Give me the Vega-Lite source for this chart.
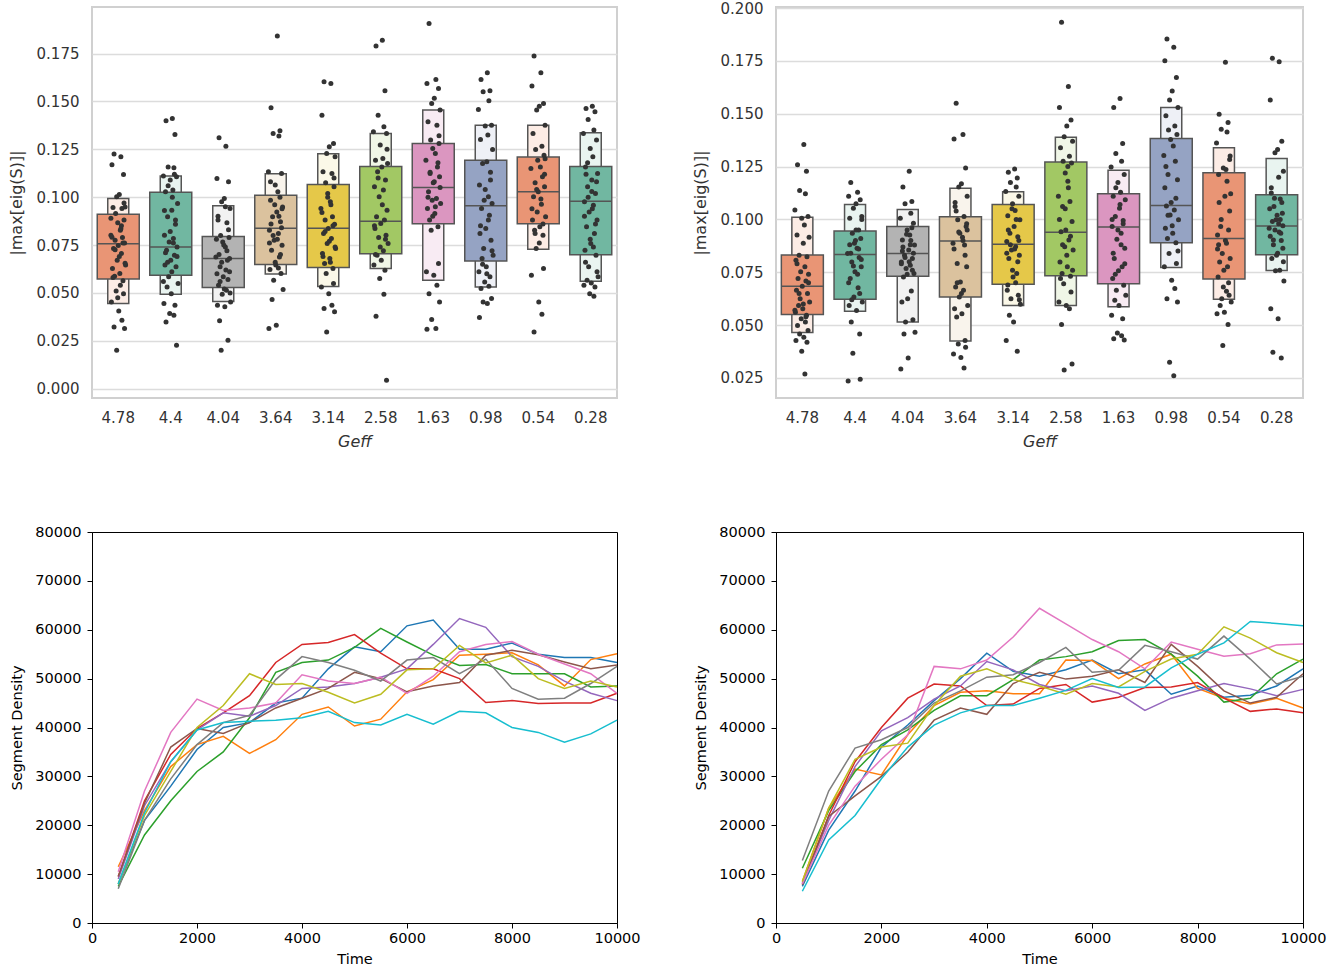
{
"$schema": "https://vega.github.io/schema/vega-lite/v6.json",
"padding": {"left": 7, "top": 0, "right": 5, "bottom": 5},
"background": "white",
"config": {"font": "DejaVu Sans", "axis": {"labelFont": "DejaVu Sans", "titleFont": "DejaVu Sans"}},
"datasets": {
"boxA": [
{"g":"4.78","o1":0.0444,"q1":0.0573,"m":0.0756,"q3":0.0911,"o3":0.0993},
{"g":"4.4","o1":0.0493,"q1":0.0592,"m":0.0739,"q3":0.1026,"o3":0.1111},
{"g":"4.04","o1":0.0455,"q1":0.0528,"m":0.0679,"q3":0.0794,"o3":0.0955},
{"g":"3.64","o1":0.0598,"q1":0.0648,"m":0.0838,"q3":0.1010,"o3":0.1122},
{"g":"3.14","o1":0.0533,"q1":0.0632,"m":0.0838,"q3":0.1066,"o3":0.1226},
{"g":"2.58","o1":0.0627,"q1":0.0704,"m":0.0874,"q3":0.1160,"o3":0.1333},
{"g":"1.63","o1":0.0566,"q1":0.0861,"m":0.1050,"q3":0.1280,"o3":0.1455},
{"g":"0.98","o1":0.0531,"q1":0.0667,"m":0.0955,"q3":0.1192,"o3":0.1376},
{"g":"0.54","o1":0.0728,"q1":0.0861,"m":0.1028,"q3":0.1209,"o3":0.1376},
{"g":"0.28","o1":0.0561,"q1":0.0699,"m":0.0979,"q3":0.1160,"o3":0.1336}
],
"boxB": [
{"g":"4.78","o1":0.0465,"q1":0.0550,"m":0.0684,"q3":0.0832,"o3":0.1010},
{"g":"4.4","o1":0.0565,"q1":0.0622,"m":0.0834,"q3":0.0945,"o3":0.1071},
{"g":"4.04","o1":0.0514,"q1":0.0731,"m":0.0839,"q3":0.0966,"o3":0.1047},
{"g":"3.64","o1":0.0425,"q1":0.0633,"m":0.0898,"q3":0.1013,"o3":0.1147},
{"g":"3.14","o1":0.0593,"q1":0.0693,"m":0.0883,"q3":0.1071,"o3":0.1131},
{"g":"2.58","o1":0.0593,"q1":0.0733,"m":0.0939,"q3":0.1272,"o3":0.1389},
{"g":"1.63","o1":0.0587,"q1":0.0696,"m":0.0964,"q3":0.1121,"o3":0.1233},
{"g":"0.98","o1":0.0772,"q1":0.0890,"m":0.1066,"q3":0.1383,"o3":0.1529},
{"g":"0.54","o1":0.0622,"q1":0.0718,"m":0.0910,"q3":0.1221,"o3":0.1339},
{"g":"0.28","o1":0.0758,"q1":0.0833,"m":0.0969,"q3":0.1117,"o3":0.1288}
],
"ptsA": [
{"g":"4.78","v":[0.1225,0.1211,0.1169,0.1118,0.1014,0.1002,0.0949,0.0946,0.0941,0.0915,0.0880,0.0866,0.0827,0.0801,0.0789,0.0775,0.0761,0.0747,0.0732,0.0706,0.0671,0.0645,0.0627,0.0601,0.0587,0.0563,0.0510,0.0496,0.0453,0.0406,0.0357,0.0322,0.0314,0.0200,0.0835,0.0790,0.0760,0.0725,0.0690,0.0655,0.0580,0.0540,0.0475,0.0970,0.0890,0.0850],"j":[-0.08,0.05,-0.12,0.1,0.02,-0.03,0.13,-0.1,0.07,-0.05,0.11,-0.01,0.04,-0.14,0.08,-0.06,0.12,0.0,-0.09,0.06,-0.02,0.14,-0.11,0.03,-0.07,0.09,-0.04,0.1,-0.13,0.01,0.07,-0.08,0.12,-0.03,0.05,-0.12,0.09,-0.06,0.02,0.13,-0.1,0.04,-0.01,0.11,-0.14,0.06,-0.05,0.08,-0.09,0.03]},
{"g":"4.4","v":[0.1411,0.1399,0.1327,0.1158,0.1153,0.1111,0.1106,0.1089,0.1037,0.1028,0.0967,0.0932,0.0897,0.0859,0.0801,0.0784,0.0766,0.0740,0.0723,0.0697,0.0671,0.0645,0.0636,0.0584,0.0549,0.0531,0.0496,0.0444,0.0436,0.0392,0.0383,0.0348,0.0226,0.1060,0.1000,0.0930,0.0880,0.0820,0.0760,0.0710,0.0690,0.0660,0.0610,0.0560,0.1120],"j":[0.03,-0.09,0.08,-0.05,0.06,-0.14,0.11,-0.01,0.04,-0.1,0.13,0.02,-0.06,0.09,-0.12,0.05,-0.03,0.12,-0.08,0.07,0.0,-0.11,0.1,-0.04,0.14,-0.07,0.01,-0.13,0.08,-0.02,0.06,-0.09,0.11,-0.05,0.03,-0.12,0.09,-0.01,0.05,-0.1,0.12,-0.06,0.02,-0.14,0.07,-0.03,0.1,-0.08,0.04,-0.11]},
{"g":"4.04","v":[0.1310,0.1266,0.1097,0.1080,0.0993,0.0976,0.0941,0.0880,0.0866,0.0800,0.0789,0.0766,0.0740,0.0688,0.0671,0.0636,0.0610,0.0584,0.0540,0.0514,0.0493,0.0453,0.0436,0.0427,0.0354,0.0253,0.0200,0.0830,0.0780,0.0750,0.0720,0.0700,0.0680,0.0660,0.0620,0.0600,0.0570,0.0560,0.0520,0.0500,0.0900,0.0950],"j":[-0.08,0.05,-0.12,0.1,0.02,-0.03,0.13,-0.1,0.07,-0.05,0.11,-0.01,0.04,-0.14,0.08,-0.06,0.12,0.0,-0.09,0.06,-0.02,0.14,-0.11,0.03,-0.07,0.09,-0.04,0.1,-0.13,0.01,0.07,-0.08,0.12,-0.03,0.05,-0.12,0.09,-0.06,0.02,0.13,-0.1,0.04,-0.01,0.11,-0.14,0.06,-0.05,0.08,-0.09,0.03]},
{"g":"3.64","v":[0.1841,0.1467,0.1347,0.1333,0.1319,0.1132,0.1124,0.1063,0.1028,0.0984,0.0949,0.0923,0.0897,0.0871,0.0827,0.0810,0.0775,0.0749,0.0723,0.0688,0.0645,0.0622,0.0601,0.0566,0.0517,0.0465,0.0331,0.0314,0.1000,0.0960,0.0900,0.0860,0.0840,0.0800,0.0780,0.0760,0.0700,0.0660,0.0630,0.1080,0.0940],"j":[0.03,-0.09,0.08,-0.05,0.06,-0.14,0.11,-0.01,0.04,-0.1,0.13,0.02,-0.06,0.09,-0.12,0.05,-0.03,0.12,-0.08,0.07,0.0,-0.11,0.1,-0.04,0.14,-0.07,0.01,-0.13,0.08,-0.02,0.06,-0.09,0.11,-0.05,0.03,-0.12,0.09,-0.01,0.05,-0.1,0.12,-0.06,0.02,-0.14,0.07,-0.03,0.1,-0.08,0.04,-0.11]},
{"g":"3.14","v":[0.1603,0.1594,0.1428,0.1280,0.1263,0.1228,0.1211,0.1132,0.1124,0.1075,0.1054,0.1019,0.0976,0.0941,0.0897,0.0880,0.0859,0.0836,0.0810,0.0784,0.0758,0.0732,0.0706,0.0679,0.0653,0.0627,0.0601,0.0549,0.0531,0.0496,0.0436,0.0418,0.0401,0.0296,0.0960,0.0920,0.0850,0.0820,0.0770,0.0740,0.0690,0.0660,0.1000,0.1100],"j":[-0.08,0.05,-0.12,0.1,0.02,-0.03,0.13,-0.1,0.07,-0.05,0.11,-0.01,0.04,-0.14,0.08,-0.06,0.12,0.0,-0.09,0.06,-0.02,0.14,-0.11,0.03,-0.07,0.09,-0.04,0.1,-0.13,0.01,0.07,-0.08,0.12,-0.03,0.05,-0.12,0.09,-0.06,0.02,0.13,-0.1,0.04,-0.01,0.11,-0.14,0.06,-0.05,0.08,-0.09,0.03]},
{"g":"2.58","v":[0.1820,0.1789,0.1556,0.1428,0.1367,0.1341,0.1333,0.1272,0.1202,0.1193,0.1176,0.1158,0.1132,0.1089,0.1054,0.1037,0.1002,0.0932,0.0897,0.0880,0.0862,0.0836,0.0801,0.0789,0.0758,0.0697,0.0671,0.0645,0.0618,0.0575,0.0493,0.0378,0.0044,0.1100,0.0960,0.0850,0.0780,0.0740,0.0720,0.0700,0.1250],"j":[0.03,-0.09,0.08,-0.05,0.06,-0.14,0.11,-0.01,0.04,-0.1,0.13,0.02,-0.06,0.09,-0.12,0.05,-0.03,0.12,-0.08,0.07,0.0,-0.11,0.1,-0.04,0.14,-0.07,0.01,-0.13,0.08,-0.02,0.06,-0.09,0.11,-0.05,0.03,-0.12,0.09,-0.01,0.05,-0.1,0.12,-0.06,0.02,-0.14,0.07,-0.03,0.1,-0.08,0.04,-0.11]},
{"g":"1.63","v":[0.1907,0.1615,0.1594,0.1568,0.1516,0.1489,0.1455,0.1394,0.1376,0.1298,0.1280,0.1254,0.1228,0.1193,0.1158,0.1124,0.1106,0.1075,0.1028,0.0993,0.0984,0.0967,0.0941,0.0915,0.0880,0.0845,0.0827,0.0653,0.0610,0.0592,0.0540,0.0496,0.0453,0.0361,0.0314,0.0310,0.1180,0.1130,0.1080,0.1050,0.1000,0.0950,0.0900,0.1320],"j":[-0.08,0.05,-0.12,0.1,0.02,-0.03,0.13,-0.1,0.07,-0.05,0.11,-0.01,0.04,-0.14,0.08,-0.06,0.12,0.0,-0.09,0.06,-0.02,0.14,-0.11,0.03,-0.07,0.09,-0.04,0.1,-0.13,0.01,0.07,-0.08,0.12,-0.03,0.05,-0.12,0.09,-0.06,0.02,0.13,-0.1,0.04,-0.01,0.11,-0.14,0.06,-0.05,0.08,-0.09,0.03]},
{"g":"0.98","v":[0.1650,0.1615,0.1556,0.1550,0.1503,0.1458,0.1376,0.1371,0.1324,0.1301,0.1249,0.1185,0.1176,0.1089,0.1063,0.1002,0.0984,0.0967,0.0941,0.0906,0.0836,0.0810,0.0775,0.0732,0.0697,0.0679,0.0636,0.0610,0.0584,0.0557,0.0535,0.0523,0.0470,0.0453,0.0444,0.0371,0.1130,0.1040,0.0880,0.0850,0.0720,0.0650,0.0600],"j":[0.03,-0.09,0.08,-0.05,0.06,-0.14,0.11,-0.01,0.04,-0.1,0.13,0.02,-0.06,0.09,-0.12,0.05,-0.03,0.12,-0.08,0.07,0.0,-0.11,0.1,-0.04,0.14,-0.07,0.01,-0.13,0.08,-0.02,0.06,-0.09,0.11,-0.05,0.03,-0.12,0.09,-0.01,0.05,-0.1,0.12,-0.06,0.02,-0.14,0.07,-0.03,0.1,-0.08,0.04,-0.11]},
{"g":"0.54","v":[0.1737,0.1650,0.1580,0.1489,0.1475,0.1455,0.1376,0.1333,0.1266,0.1249,0.1219,0.1193,0.1158,0.1150,0.1106,0.1075,0.1054,0.1028,0.1002,0.0963,0.0923,0.0897,0.0880,0.0845,0.0827,0.0801,0.0732,0.0627,0.0592,0.0453,0.0388,0.0296,0.1120,0.1040,0.0990,0.0940,0.0860,0.0810,0.0760,0.1200],"j":[-0.08,0.05,-0.12,0.1,0.02,-0.03,0.13,-0.1,0.07,-0.05,0.11,-0.01,0.04,-0.14,0.08,-0.06,0.12,0.0,-0.09,0.06,-0.02,0.14,-0.11,0.03,-0.07,0.09,-0.04,0.1,-0.13,0.01,0.07,-0.08,0.12,-0.03,0.05,-0.12,0.09,-0.06,0.02,0.13,-0.1,0.04,-0.01,0.11,-0.14,0.06,-0.05,0.08,-0.09,0.03]},
{"g":"0.28","v":[0.1475,0.1463,0.1446,0.1406,0.1350,0.1333,0.1298,0.1254,0.1211,0.1158,0.1124,0.1089,0.1054,0.1019,0.0976,0.0958,0.0923,0.0880,0.0845,0.0810,0.0758,0.0723,0.0697,0.0636,0.0584,0.0566,0.0552,0.0540,0.0531,0.0496,0.0483,0.1120,0.1080,0.1000,0.0940,0.0900,0.0860,0.0780,0.0740,0.0660,0.0610,0.1180,0.1030],"j":[0.03,-0.09,0.08,-0.05,0.06,-0.14,0.11,-0.01,0.04,-0.1,0.13,0.02,-0.06,0.09,-0.12,0.05,-0.03,0.12,-0.08,0.07,0.0,-0.11,0.1,-0.04,0.14,-0.07,0.01,-0.13,0.08,-0.02,0.06,-0.09,0.11,-0.05,0.03,-0.12,0.09,-0.01,0.05,-0.1,0.12,-0.06,0.02,-0.14,0.07,-0.03,0.1,-0.08,0.04,-0.11]}
],
"ptsB": [
{"g":"4.78","v":[0.1355,0.1259,0.1228,0.1137,0.1121,0.1045,0.1014,0.1006,0.0974,0.0926,0.0915,0.0887,0.0831,0.0823,0.0807,0.0776,0.0752,0.0741,0.0720,0.0709,0.0684,0.0665,0.0649,0.0625,0.0609,0.0593,0.0577,0.0561,0.0546,0.0530,0.0514,0.0498,0.0474,0.0458,0.0443,0.0427,0.0419,0.0376,0.0268,0.0790,0.0700,0.0650,0.0600,0.0570,0.0540],"j":[0.03,-0.09,0.08,-0.05,0.06,-0.14,0.11,-0.01,0.04,-0.1,0.13,0.02,-0.06,0.09,-0.12,0.05,-0.03,0.12,-0.08,0.07,0.0,-0.11,0.1,-0.04,0.14,-0.07,0.01,-0.13,0.08,-0.02,0.06,-0.09,0.11,-0.05,0.03,-0.12,0.09,-0.01,0.05,-0.1,0.12,-0.06,0.02,-0.14,0.07,-0.03,0.1,-0.08,0.04,-0.11]},
{"g":"4.4","v":[0.1175,0.1128,0.1109,0.1093,0.1074,0.1053,0.1014,0.1006,0.0950,0.0934,0.0910,0.0887,0.0863,0.0839,0.0820,0.0799,0.0776,0.0752,0.0720,0.0677,0.0633,0.0609,0.0593,0.0569,0.0514,0.0458,0.0367,0.0244,0.0236,0.0900,0.0860,0.0840,0.0810,0.0780,0.0740,0.0700,0.0650,0.0620,0.0950,0.1000,0.0880],"j":[-0.08,0.05,-0.12,0.1,0.02,-0.03,0.13,-0.1,0.07,-0.05,0.11,-0.01,0.04,-0.14,0.08,-0.06,0.12,0.0,-0.09,0.06,-0.02,0.14,-0.11,0.03,-0.07,0.09,-0.04,0.1,-0.13,0.01,0.07,-0.08,0.12,-0.03,0.05,-0.12,0.09,-0.06,0.02,0.13,-0.1,0.04,-0.01,0.11,-0.14,0.06,-0.05,0.08,-0.09,0.03]},
{"g":"4.04","v":[0.1228,0.1153,0.1085,0.1074,0.1029,0.1006,0.0982,0.0950,0.0926,0.0903,0.0879,0.0855,0.0831,0.0815,0.0799,0.0783,0.0768,0.0744,0.0728,0.0661,0.0625,0.0609,0.0525,0.0514,0.0466,0.0458,0.0344,0.0292,0.0960,0.0930,0.0900,0.0870,0.0840,0.0820,0.0800,0.0790,0.0760,0.0740,0.0880,0.0850],"j":[0.03,-0.09,0.08,-0.05,0.06,-0.14,0.11,-0.01,0.04,-0.1,0.13,0.02,-0.06,0.09,-0.12,0.05,-0.03,0.12,-0.08,0.07,0.0,-0.11,0.1,-0.04,0.14,-0.07,0.01,-0.13,0.08,-0.02,0.06,-0.09,0.11,-0.05,0.03,-0.12,0.09,-0.01,0.05,-0.1,0.12,-0.06,0.02,-0.14,0.07,-0.03,0.1,-0.08,0.04,-0.11]},
{"g":"3.64","v":[0.1550,0.1402,0.1381,0.1243,0.1169,0.1153,0.1109,0.1061,0.1014,0.0998,0.0966,0.0934,0.0915,0.0887,0.0879,0.0791,0.0776,0.0704,0.0680,0.0665,0.0633,0.0593,0.0577,0.0554,0.0538,0.0427,0.0411,0.0395,0.0363,0.0347,0.0297,0.1040,0.0980,0.0940,0.0900,0.0860,0.0830,0.0700,0.0650,0.0950,0.1080],"j":[-0.08,0.05,-0.12,0.1,0.02,-0.03,0.13,-0.1,0.07,-0.05,0.11,-0.01,0.04,-0.14,0.08,-0.06,0.12,0.0,-0.09,0.06,-0.02,0.14,-0.11,0.03,-0.07,0.09,-0.04,0.1,-0.13,0.01,0.07,-0.08,0.12,-0.03,0.05,-0.12,0.09,-0.06,0.02,0.13,-0.1,0.04,-0.01,0.11,-0.14,0.06,-0.05,0.08,-0.09,0.03]},
{"g":"3.14","v":[0.1239,0.1223,0.1196,0.1175,0.1153,0.1132,0.1109,0.1074,0.1042,0.1017,0.0998,0.0966,0.0934,0.0918,0.0895,0.0871,0.0855,0.0831,0.0815,0.0744,0.0728,0.0665,0.0641,0.0625,0.0598,0.0546,0.0514,0.0427,0.0376,0.1050,0.1000,0.0950,0.0900,0.0880,0.0860,0.0840,0.0800,0.0760,0.0700,0.0690,0.0620],"j":[0.03,-0.09,0.08,-0.05,0.06,-0.14,0.11,-0.01,0.04,-0.1,0.13,0.02,-0.06,0.09,-0.12,0.05,-0.03,0.12,-0.08,0.07,0.0,-0.11,0.1,-0.04,0.14,-0.07,0.01,-0.13,0.08,-0.02,0.06,-0.09,0.11,-0.05,0.03,-0.12,0.09,-0.01,0.05,-0.1,0.12,-0.06,0.02,-0.14,0.07,-0.03,0.1,-0.08,0.04,-0.11]},
{"g":"2.58","v":[0.1933,0.1629,0.1529,0.1470,0.1442,0.1391,0.1370,0.1339,0.1299,0.1275,0.1267,0.1220,0.1180,0.1109,0.1085,0.1061,0.0990,0.0950,0.0942,0.0903,0.0871,0.0855,0.0799,0.0776,0.0744,0.0731,0.0696,0.0657,0.0609,0.0593,0.0577,0.0503,0.0316,0.0287,0.1150,0.1000,0.0920,0.0880,0.0830,0.0760,0.0720,0.1250,0.1050],"j":[-0.08,0.05,-0.12,0.1,0.02,-0.03,0.13,-0.1,0.07,-0.05,0.11,-0.01,0.04,-0.14,0.08,-0.06,0.12,0.0,-0.09,0.06,-0.02,0.14,-0.11,0.03,-0.07,0.09,-0.04,0.1,-0.13,0.01,0.07,-0.08,0.12,-0.03,0.05,-0.12,0.09,-0.06,0.02,0.13,-0.1,0.04,-0.01,0.11,-0.14,0.06,-0.05,0.08,-0.09,0.03]},
{"g":"1.63","v":[0.1572,0.1529,0.1359,0.1312,0.1275,0.1248,0.1212,0.1175,0.1128,0.1109,0.1093,0.1053,0.1014,0.0995,0.0966,0.0934,0.0906,0.0863,0.0815,0.0776,0.0757,0.0720,0.0688,0.0665,0.0641,0.0617,0.0593,0.0546,0.0530,0.0462,0.0450,0.0435,0.0430,0.1150,0.1070,0.1000,0.0980,0.0950,0.0880,0.0840,0.0790,0.0740],"j":[0.03,-0.09,0.08,-0.05,0.06,-0.14,0.11,-0.01,0.04,-0.1,0.13,0.02,-0.06,0.09,-0.12,0.05,-0.03,0.12,-0.08,0.07,0.0,-0.11,0.1,-0.04,0.14,-0.07,0.01,-0.13,0.08,-0.02,0.06,-0.09,0.11,-0.05,0.03,-0.12,0.09,-0.01,0.05,-0.1,0.12,-0.06,0.02,-0.14,0.07,-0.03,0.1,-0.08,0.04,-0.11]},
{"g":"0.98","v":[0.1854,0.1814,0.1751,0.1672,0.1608,0.1565,0.1529,0.1490,0.1442,0.1423,0.1402,0.1378,0.1347,0.1302,0.1275,0.1212,0.1188,0.1080,0.1064,0.1045,0.1021,0.0998,0.0958,0.0934,0.0910,0.0890,0.0839,0.0791,0.0776,0.0712,0.0673,0.0625,0.0609,0.0324,0.0260,0.1150,0.1100,0.1020,0.0970,0.0850,0.1250],"j":[-0.08,0.05,-0.12,0.1,0.02,-0.03,0.13,-0.1,0.07,-0.05,0.11,-0.01,0.04,-0.14,0.08,-0.06,0.12,0.0,-0.09,0.06,-0.02,0.14,-0.11,0.03,-0.07,0.09,-0.04,0.1,-0.13,0.01,0.07,-0.08,0.12,-0.03,0.05,-0.12,0.09,-0.06,0.02,0.13,-0.1,0.04,-0.01,0.11,-0.14,0.06,-0.05,0.08,-0.09,0.03]},
{"g":"0.54","v":[0.1743,0.1497,0.1458,0.1426,0.1413,0.1362,0.1283,0.1243,0.1236,0.1212,0.1121,0.1109,0.0966,0.0950,0.0926,0.0887,0.0839,0.0815,0.0799,0.0776,0.0760,0.0728,0.0641,0.0625,0.0609,0.0593,0.0561,0.0554,0.0503,0.0403,0.1180,0.1080,0.1040,0.1000,0.0900,0.0860,0.0700,0.0680,0.0660,0.0880,0.1300],"j":[0.03,-0.09,0.08,-0.05,0.06,-0.14,0.11,-0.01,0.04,-0.1,0.13,0.02,-0.06,0.09,-0.12,0.05,-0.03,0.12,-0.08,0.07,0.0,-0.11,0.1,-0.04,0.14,-0.07,0.01,-0.13,0.08,-0.02,0.06,-0.09,0.11,-0.05,0.03,-0.12,0.09,-0.01,0.05,-0.1,0.12,-0.06,0.02,-0.14,0.07,-0.03,0.1,-0.08,0.04,-0.11]},
{"g":"0.28","v":[0.1762,0.1746,0.1565,0.1370,0.1331,0.1315,0.1228,0.1125,0.1096,0.1061,0.1029,0.0998,0.0979,0.0958,0.0934,0.0903,0.0863,0.0831,0.0815,0.0760,0.0757,0.0709,0.0577,0.0530,0.0371,0.0344,0.1100,0.1080,0.1050,0.1020,0.1000,0.0990,0.0970,0.0950,0.0940,0.0920,0.0900,0.0880,0.0840,0.0800,0.1150,0.1200],"j":[-0.08,0.05,-0.12,0.1,0.02,-0.03,0.13,-0.1,0.07,-0.05,0.11,-0.01,0.04,-0.14,0.08,-0.06,0.12,0.0,-0.09,0.06,-0.02,0.14,-0.11,0.03,-0.07,0.09,-0.04,0.1,-0.13,0.01,0.07,-0.08,0.12,-0.03,0.05,-0.12,0.09,-0.06,0.02,0.13,-0.1,0.04,-0.01,0.11,-0.14,0.06,-0.05,0.08,-0.09,0.03]}
],
"lineL": [
{"s":"s0","t":[500,1000,1500,2000,2500,3000,3500,4000,4500,5000,5500,6000,6500,7000,7500,8000,8500,9000,9500,10000],"d":[8000,21000,28000,35500,40000,41000,45000,46000,52000,56500,55500,60800,62000,56000,56000,57300,55000,54300,54300,53300]},
{"s":"s1","t":[500,1000,1500,2000,2500,3000,3500,4000,4500,5000,5500,6000,6500,7000,7500,8000,8500,9000,9500,10000],"d":[11500,23000,32000,36500,38200,34700,37500,42700,44200,40300,41700,47300,49800,54800,55000,55300,52800,48500,53900,55100]},
{"s":"s2","t":[500,1000,1500,2000,2500,3000,3500,4000,4500,5000,5500,6000,6500,7000,7500,8000,8500,9000,9500,10000],"d":[7500,18000,25000,31000,35000,42000,51300,53300,53800,56400,60300,57500,54800,52700,52900,51000,51000,51000,48300,48500]},
{"s":"s3","t":[500,1000,1500,2000,2500,3000,3500,4000,4500,5000,5500,6000,6500,7000,7500,8000,8500,9000,9500,10000],"d":[9500,25000,34500,39800,43000,46500,53300,57000,57400,59000,55200,52000,52000,50000,45100,45500,44900,45000,45000,47000]},
{"s":"s4","t":[500,1000,1500,2000,2500,3000,3500,4000,4500,5000,5500,6000,6500,7000,7500,8000,8500,9000,9500,10000],"d":[9000,24000,33000,39500,43000,42300,44500,48000,48300,49000,50300,52000,57000,62300,60500,54500,52500,49500,47000,45500]},
{"s":"s5","t":[500,1000,1500,2000,2500,3000,3500,4000,4500,5000,5500,6000,6500,7000,7500,8000,8500,9000,9500,10000],"d":[9500,24500,36000,39800,38800,41000,44000,46000,48000,51300,50000,47300,48500,49200,54800,55800,54900,53400,52000,52800]},
{"s":"s6","t":[500,1000,1500,2000,2500,3000,3500,4000,4500,5000,5500,6000,6500,7000,7500,8000,8500,9000,9500,10000],"d":[10500,27000,39000,45800,43500,44000,45000,50800,49500,49000,50300,47000,50500,55500,57000,57600,55000,53000,51000,47000]},
{"s":"s7","t":[500,1000,1500,2000,2500,3000,3500,4000,4500,5000,5500,6000,6500,7000,7500,8000,8500,9000,9500,10000],"d":[7000,21000,29500,36500,41000,42500,49800,54500,53300,51700,49500,53800,54300,51000,54000,48000,45800,46000,49000,52500]},
{"s":"s8","t":[500,1000,1500,2000,2500,3000,3500,4000,4500,5000,5500,6000,6500,7000,7500,8000,8500,9000,9500,10000],"d":[8000,22000,31000,40000,44500,51000,48800,49000,47200,45000,46800,51800,52000,56800,53200,54800,50000,48000,49500,48300]},
{"s":"s9","t":[500,1000,1500,2000,2500,3000,3500,4000,4500,5000,5500,6000,6500,7000,7500,8000,8500,9000,9500,10000],"d":[8000,22500,33000,39500,41000,41300,41500,42000,43300,41000,40500,42700,40700,43300,43000,40000,39000,37000,38700,41500]}
],
"lineR": [
{"s":"s0","t":[500,1000,1500,2000,2500,3000,3500,4000,4500,5000,5500,6000,6500,7000,7500,8000,8500,9000,9500,10000],"d":[7500,19000,27000,36000,40500,45500,50000,55200,51500,50500,51800,53800,51000,51800,46800,48500,46200,46600,48500,52000]},
{"s":"s1","t":[500,1000,1500,2000,2500,3000,3500,4000,4500,5000,5500,6000,6500,7000,7500,8000,8500,9000,9500,10000],"d":[8500,23500,31500,30300,38500,44500,47200,47500,46900,46900,53800,53700,50000,53000,55000,48000,46000,44800,46000,44000]},
{"s":"s2","t":[500,1000,1500,2000,2500,3000,3500,4000,4500,5000,5500,6000,6500,7000,7500,8000,8500,9000,9500,10000],"d":[11200,23000,31000,36500,39500,43500,46500,46500,49800,53800,54500,55500,57800,58000,55000,50500,45200,46000,51000,54000]},
{"s":"s3","t":[500,1000,1500,2000,2500,3000,3500,4000,4500,5000,5500,6000,6500,7000,7500,8000,8500,9000,9500,10000],"d":[8000,22000,33000,40000,46000,48900,48500,44500,44800,48000,48800,45200,46200,48200,48300,49200,46000,43300,43800,43000]},
{"s":"s4","t":[500,1000,1500,2000,2500,3000,3500,4000,4500,5000,5500,6000,6500,7000,7500,8000,8500,9000,9500,10000],"d":[8200,21000,32000,39300,42000,45800,48500,53500,51800,48800,47500,48500,47000,43500,46000,47500,49000,47900,46500,47800]},
{"s":"s5","t":[500,1000,1500,2000,2500,3000,3500,4000,4500,5000,5500,6000,6500,7000,7500,8000,8500,9000,9500,10000],"d":[7800,21800,26000,30000,35000,41500,44000,42700,49000,51300,49900,50500,51800,49200,57000,52500,47500,45000,46200,51000]},
{"s":"s6","t":[500,1000,1500,2000,2500,3000,3500,4000,4500,5000,5500,6000,6500,7000,7500,8000,8500,9000,9500,10000],"d":[8000,20000,28000,33500,38500,52500,52000,53800,58500,64400,61200,58000,55500,52000,57500,56000,54600,55100,56900,57100]},
{"s":"s7","t":[500,1000,1500,2000,2500,3000,3500,4000,4500,5000,5500,6000,6500,7000,7500,8000,8500,9000,9500,10000],"d":[12800,27000,35800,37500,40000,45000,47500,50300,50800,53300,56400,51300,51700,56800,55500,54000,58700,54000,48900,50500]},
{"s":"s8","t":[500,1000,1500,2000,2500,3000,3500,4000,4500,5000,5500,6000,6500,7000,7500,8000,8500,9000,9500,10000],"d":[8500,23500,33500,36000,36800,44500,50500,52000,49800,48500,46800,49000,48300,51500,54000,55000,60600,58300,55300,53300]},
{"s":"s9","t":[500,1000,1500,2000,2500,3000,3500,4000,4500,5000,5500,6000,6500,7000,7500,8000,8500,9000,9500,10000],"d":[6500,17000,22000,29500,36000,40500,43000,44500,44500,46000,47600,50000,48200,48300,52200,55000,57300,61700,61300,60800]}
]
},
"columns": 2,
"spacing": {"row": 73, "column": 50},
"concat": [
{
 "width": 525, "height": 391,
 "view": {"stroke": "#d0d0d0", "strokeWidth": 2},
 "encoding": {"x": {"field": "g", "type": "ordinal", "sort": ["4.78","4.4","4.04","3.64","3.14","2.58","1.63","0.98","0.54","0.28"], "scale": {"paddingInner": 0, "paddingOuter": 0}, "title": "Geff",
   "axis": {"domain": false, "ticks": false, "grid": false, "labelAngle": 0, "labelFontSize": 15, "labelColor": "#333333", "labelPadding": 12, "titleFontSize": 16, "titleFontStyle": "italic", "titleFontWeight": "normal", "titleColor": "#333333", "titlePadding": 8}}},
 "layer": [
  {"data": {"name": "boxA"}, "mark": {"type": "bar", "width": 21, "stroke": "#555555", "strokeWidth": 1.5},
   "encoding": {"y": {"field": "o1", "type": "quantitative", "title": "|max[eig(S)]|", "scale": {"domain": [-0.0049, 0.1993], "nice": false, "zero": false},
     "axis": {"domain": false, "ticks": false, "grid": true, "gridColor": "#dcdcdc", "gridWidth": 1.5, "values": [0, 0.025, 0.05, 0.075, 0.1, 0.125, 0.15, 0.175], "format": ".3f", "labelFlush": false, "labelFontSize": 15, "labelColor": "#333333", "labelPadding": 13, "titleFontSize": 16, "titleFontWeight": "normal", "titleColor": "#333333", "titlePadding": 12}},
    "y2": {"field": "o3"},
    "color": {"field": "g", "type": "nominal", "legend": null, "scale": {"domain": ["4.78","4.4","4.04","3.64","3.14","2.58","1.63","0.98","0.54","0.28"], "range": ["#fcece5","#e9f4f0","#f2f2f2","#f9f4ec","#fbf8e8","#f0f6e7","#f8ebf3","#eef0f6","#fcece5","#e9f4f0"]}}}},
  {"data": {"name": "boxA"}, "mark": {"type": "bar", "width": 42, "stroke": "#555555", "strokeWidth": 1.5},
   "encoding": {"y": {"field": "q1", "type": "quantitative", "title": "|max[eig(S)]|"}, "y2": {"field": "q3"},
    "color": {"field": "g", "type": "nominal", "legend": null, "scale": {"domain": ["4.78","4.4","4.04","3.64","3.14","2.58","1.63","0.98","0.54","0.28"], "range": ["#e99575","#71b7a1","#b3b3b3","#dbc29e","#e5c849","#a2c864","#db96c0","#95a3c3","#e99575","#71b7a1"]}}}},
  {"data": {"name": "boxA"}, "mark": {"type": "tick", "orient": "horizontal", "size": 42, "thickness": 1.5, "color": "#555555", "opacity": 1},
   "encoding": {"y": {"field": "m", "type": "quantitative", "title": "|max[eig(S)]|"}}},
  {"data": {"name": "ptsA"}, "transform": [{"flatten": ["v", "j"]}, {"filter": "datum.v != null"}],
   "mark": {"type": "circle", "size": 25, "color": "#333333", "opacity": 1},
   "encoding": {"y": {"field": "v", "type": "quantitative", "title": "|max[eig(S)]|"}, "xOffset": {"field": "j", "type": "quantitative", "scale": {"domain": [-0.5, 0.5]}}}}
 ],
 "resolve": {"scale": {"color": "independent"}}
},
{
 "width": 527, "height": 391,
 "view": {"stroke": "#d0d0d0", "strokeWidth": 2},
 "encoding": {"x": {"field": "g", "type": "ordinal", "sort": ["4.78","4.4","4.04","3.64","3.14","2.58","1.63","0.98","0.54","0.28"], "scale": {"paddingInner": 0, "paddingOuter": 0}, "title": "Geff",
   "axis": {"domain": false, "ticks": false, "grid": false, "labelAngle": 0, "labelFontSize": 15, "labelColor": "#333333", "labelPadding": 12, "titleFontSize": 16, "titleFontStyle": "italic", "titleFontWeight": "normal", "titleColor": "#333333", "titlePadding": 8}}},
 "layer": [
  {"data": {"name": "boxB"}, "mark": {"type": "bar", "width": 21, "stroke": "#555555", "strokeWidth": 1.5},
   "encoding": {"y": {"field": "o1", "type": "quantitative", "title": "|max[eig(S)]|", "scale": {"domain": [0.0155, 0.2005], "nice": false, "zero": false},
     "axis": {"domain": false, "ticks": false, "grid": true, "gridColor": "#dcdcdc", "gridWidth": 1.5, "values": [0.025, 0.05, 0.075, 0.1, 0.125, 0.15, 0.175, 0.2], "format": ".3f", "labelFlush": false, "labelFontSize": 15, "labelColor": "#333333", "labelPadding": 13, "titleFontSize": 16, "titleFontWeight": "normal", "titleColor": "#333333", "titlePadding": 12}},
    "y2": {"field": "o3"},
    "color": {"field": "g", "type": "nominal", "legend": null, "scale": {"domain": ["4.78","4.4","4.04","3.64","3.14","2.58","1.63","0.98","0.54","0.28"], "range": ["#fcece5","#e9f4f0","#f2f2f2","#f9f4ec","#fbf8e8","#f0f6e7","#f8ebf3","#eef0f6","#fcece5","#e9f4f0"]}}}},
  {"data": {"name": "boxB"}, "mark": {"type": "bar", "width": 42, "stroke": "#555555", "strokeWidth": 1.5},
   "encoding": {"y": {"field": "q1", "type": "quantitative", "title": "|max[eig(S)]|"}, "y2": {"field": "q3"},
    "color": {"field": "g", "type": "nominal", "legend": null, "scale": {"domain": ["4.78","4.4","4.04","3.64","3.14","2.58","1.63","0.98","0.54","0.28"], "range": ["#e99575","#71b7a1","#b3b3b3","#dbc29e","#e5c849","#a2c864","#db96c0","#95a3c3","#e99575","#71b7a1"]}}}},
  {"data": {"name": "boxB"}, "mark": {"type": "tick", "orient": "horizontal", "size": 42, "thickness": 1.5, "color": "#555555", "opacity": 1},
   "encoding": {"y": {"field": "m", "type": "quantitative", "title": "|max[eig(S)]|"}}},
  {"data": {"name": "ptsB"}, "transform": [{"flatten": ["v", "j"]}, {"filter": "datum.v != null"}],
   "mark": {"type": "circle", "size": 25, "color": "#333333", "opacity": 1},
   "encoding": {"y": {"field": "v", "type": "quantitative", "title": "|max[eig(S)]|"}, "xOffset": {"field": "j", "type": "quantitative", "scale": {"domain": [-0.5, 0.5]}}}}
 ],
 "resolve": {"scale": {"color": "independent"}}
},
{
 "width": 525, "height": 391,
 "view": {"stroke": "#000000", "strokeWidth": 1},
 "data": {"name": "lineL"},
 "transform": [{"flatten": ["t", "d"]}],
 "mark": {"type": "line", "strokeWidth": 1.5},
 "encoding": {
  "x": {"field": "t", "type": "quantitative", "title": "Time", "scale": {"domain": [0, 10000], "nice": false},
   "axis": {"values": [0, 2000, 4000, 6000, 8000, 10000], "format": "d", "grid": false, "labelFlush": false, "domainColor": "#000000", "domainWidth": 1, "tickColor": "#000000", "tickSize": 5, "labelColor": "#000000", "labelFontSize": 14.5, "labelPadding": 3, "titleFontSize": 14.5, "titleFontWeight": "normal", "titleColor": "#000000", "titlePadding": 8}},
  "y": {"field": "d", "type": "quantitative", "title": "Segment Density", "scale": {"domain": [0, 80000], "nice": false},
   "axis": {"values": [0, 10000, 20000, 30000, 40000, 50000, 60000, 70000, 80000], "format": "d", "grid": false, "labelFlush": false, "domainColor": "#000000", "domainWidth": 1, "tickColor": "#000000", "tickSize": 5, "labelColor": "#000000", "labelFontSize": 14.5, "labelPadding": 6, "titleFontSize": 14.5, "titleFontWeight": "normal", "titleColor": "#000000", "titlePadding": 10}},
  "color": {"field": "s", "type": "nominal", "legend": null, "scale": {"domain": ["s0","s1","s2","s3","s4","s5","s6","s7","s8","s9"], "range": ["#1f77b4","#ff7f0e","#2ca02c","#d62728","#9467bd","#8c564b","#e377c2","#7f7f7f","#bcbd22","#17becf"]}}
 }
},
{
 "width": 527, "height": 391,
 "view": {"stroke": "#000000", "strokeWidth": 1},
 "data": {"name": "lineR"},
 "transform": [{"flatten": ["t", "d"]}],
 "mark": {"type": "line", "strokeWidth": 1.5},
 "encoding": {
  "x": {"field": "t", "type": "quantitative", "title": "Time", "scale": {"domain": [0, 10000], "nice": false},
   "axis": {"values": [0, 2000, 4000, 6000, 8000, 10000], "format": "d", "grid": false, "labelFlush": false, "domainColor": "#000000", "domainWidth": 1, "tickColor": "#000000", "tickSize": 5, "labelColor": "#000000", "labelFontSize": 14.5, "labelPadding": 3, "titleFontSize": 14.5, "titleFontWeight": "normal", "titleColor": "#000000", "titlePadding": 8}},
  "y": {"field": "d", "type": "quantitative", "title": "Segment Density", "scale": {"domain": [0, 80000], "nice": false},
   "axis": {"values": [0, 10000, 20000, 30000, 40000, 50000, 60000, 70000, 80000], "format": "d", "grid": false, "labelFlush": false, "domainColor": "#000000", "domainWidth": 1, "tickColor": "#000000", "tickSize": 5, "labelColor": "#000000", "labelFontSize": 14.5, "labelPadding": 6, "titleFontSize": 14.5, "titleFontWeight": "normal", "titleColor": "#000000", "titlePadding": 10}},
  "color": {"field": "s", "type": "nominal", "legend": null, "scale": {"domain": ["s0","s1","s2","s3","s4","s5","s6","s7","s8","s9"], "range": ["#1f77b4","#ff7f0e","#2ca02c","#d62728","#9467bd","#8c564b","#e377c2","#7f7f7f","#bcbd22","#17becf"]}}
 }
}
]
}
